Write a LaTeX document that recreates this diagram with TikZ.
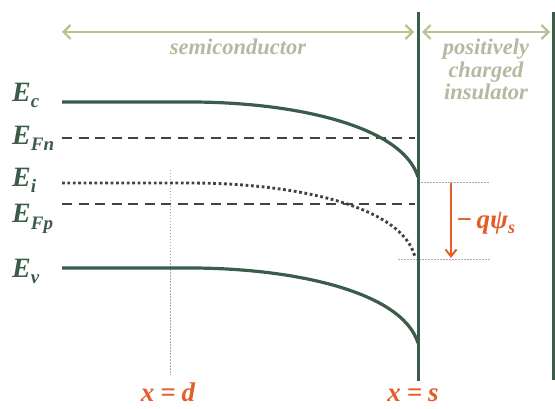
\documentclass[tikz,border=0pt]{standalone}
\usepackage{fontspec}
\setmainfont{Liberation Serif}
\usetikzlibrary{arrows.meta}
\definecolor{bandc}{RGB}{58,92,72}
\definecolor{olivearr}{RGB}{183,193,145}
\definecolor{olivetxt}{RGB}{184,184,160}
\definecolor{orng}{RGB}{228,92,40}
\definecolor{refgray}{RGB}{170,170,170}
\definecolor{dashc}{RGB}{62,70,66}
\newcommand{\Elbl}[1]{{\fontsize{28}{28}\selectfont E}\raisebox{-6pt}{\fontsize{19}{19}\selectfont #1}}
\begin{document}
\begin{tikzpicture}[x=1pt,y=-1pt,
  bandline/.style={draw=bandc,line width=3.2pt},
  wall/.style={draw=bandc,line width=3pt},
  fermi/.style={draw=dashc,line width=2.2pt,dash pattern=on 10pt off 6.5pt},
  intr/.style={draw=dashc,line width=2.9pt,dash pattern=on 2.8pt off 2.6pt},
  refline/.style={draw=refgray,line width=0.8pt,dash pattern=on 1.5pt off 1.5pt},
  regionarrow/.style={draw=olivearr,line width=2.2pt,{Straight Barb[length=7pt,width=14pt]}-{Straight Barb[length=7pt,width=14pt]}},
  potarrow/.style={draw=orng,line width=2pt,-{Straight Barb[length=7pt,width=11pt]}},
  elabel/.style={text=bandc,font=\bfseries\itshape,anchor=base west,inner sep=0pt},
  regiontext/.style={text=olivetxt,font=\fontsize{22.5}{22.5}\selectfont\bfseries\itshape,anchor=base,inner sep=0pt},
  postext/.style={text=orng,font=\fontsize{27}{27}\selectfont\bfseries\itshape,inner sep=0pt}
]
\useasboundingbox (0,0) rectangle (555,409);
% coordinates
\coordinate (wallT) at (418,12);
\coordinate (wallB) at (418,381);
\coordinate (rwallT) at (553,12);
\coordinate (rwallB) at (553,380);
\coordinate (semL) at (62,32);
\coordinate (semR) at (414,32);
\coordinate (insL) at (422,32);
\coordinate (insR) at (550,32);
\coordinate (ec0) at (62,102);
\coordinate (ec1) at (190,102);
\coordinate (ec2) at (418,177);
\coordinate (ev0) at (62,268);
\coordinate (ev1) at (190,268);
\coordinate (ev2) at (418,343);
\coordinate (ei0) at (62,183);
\coordinate (ei1) at (190,183);
\coordinate (ei2) at (415,257);
\coordinate (fn0) at (62,138);
\coordinate (fn1) at (415,138);
\coordinate (fp0) at (62,204);
\coordinate (fp1) at (415,204);
\coordinate (rt0) at (418,182);
\coordinate (rt1) at (490,182);
\coordinate (rb0) at (398,259);
\coordinate (rb1) at (490,259);
\coordinate (dT) at (170,170);
\coordinate (dB) at (170,375);
\coordinate (aT) at (451,183);
\coordinate (aB) at (451,258);
% region arrows
\draw[regionarrow] (semL) -- (semR);
\draw[regionarrow] (insL) -- (insR);
% reference lines
\draw[refline] (dT) -- (dB);
\draw[refline] (rt0) -- (rt1);
\draw[refline] (rb0) -- (rb1);
% Fermi levels
\draw[fermi] (fn0) -- (fn1);
\draw[fermi] (fp0) -- (fp1);
% intrinsic level
\draw[intr] (ei0) -- (ei1) .. controls (292,183) and (402,205) .. (ei2);
% bands
\draw[bandline] (ec0) -- (ec1) .. controls (292,102) and (402,125) .. (ec2);
\draw[bandline] (ev0) -- (ev1) .. controls (292,268) and (402,291) .. (ev2);
% walls
\draw[wall] (wallT) -- (wallB);
\draw[wall] (rwallT) -- (rwallB);
% potential arrow
\draw[potarrow] (aT) -- (aB);
% texts
\node[regiontext] (semi) at (238,55) {semiconductor};
\node[regiontext] (ins1) at (486,55) {positively};
\node[regiontext] (ins2) at (486,78) {charged};
\node[regiontext] (ins3) at (486,100) {insulator};
\node[elabel] (lEc) at (12,102) {\Elbl{c}};
\node[elabel] (lEFn) at (12,145) {\Elbl{Fn}};
\node[elabel] (lEi) at (12,187) {\Elbl{i}};
\node[elabel] (lEFp) at (12,223) {\Elbl{Fp}};
\node[elabel] (lEv) at (12,277) {\Elbl{v}};
\node[postext,anchor=base west] (psi) at (456,229) {−\kern4pt qψ\raisebox{-5pt}{\fontsize{18}{18}\selectfont s}};
\node[postext,anchor=base] (xd) at (168,401) {x\kern6pt=\kern6pt d};
\node[postext,anchor=base] (xs) at (413,401) {x\kern6pt=\kern6pt s};
\end{tikzpicture}
\end{document}
